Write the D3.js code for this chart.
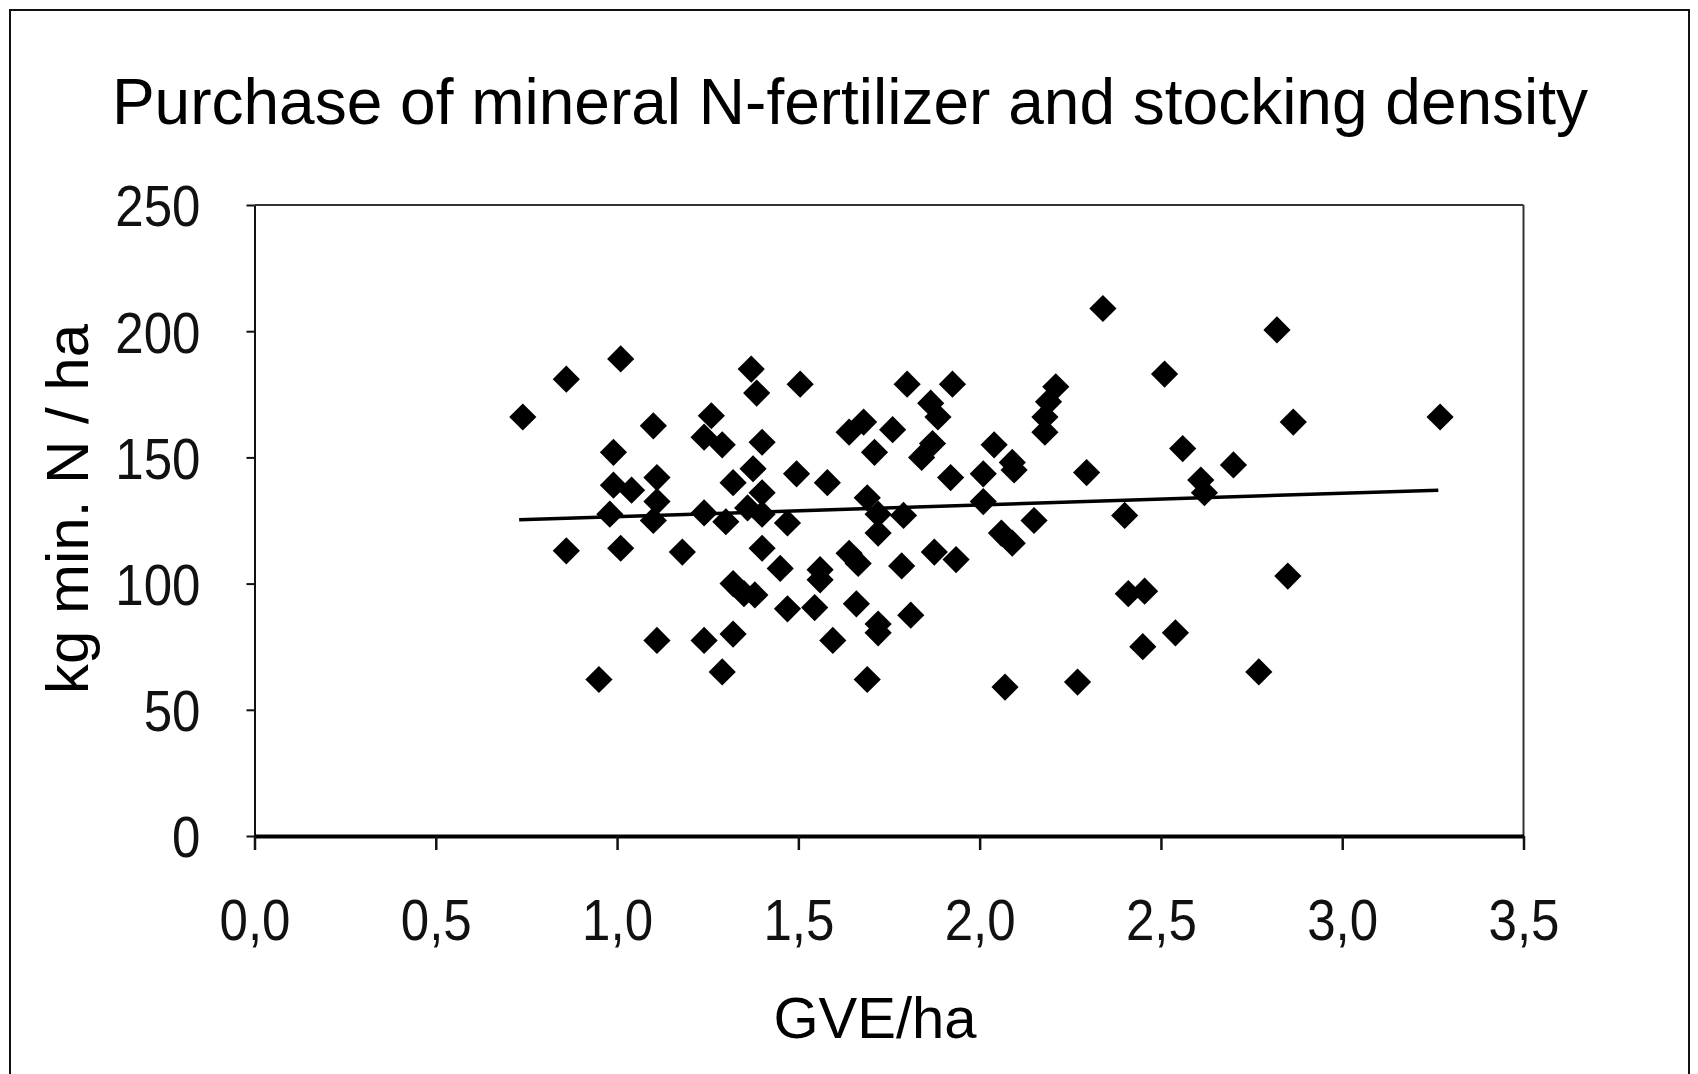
<!DOCTYPE html>
<html lang="en">
<head>
<meta charset="UTF-8">
<script src="https://cdn.jsdelivr.net/npm/d3@7/dist/d3.min.js"></script>
<title>Purchase of mineral N-fertilizer and stocking density</title>
<style>
  body { margin: 0; background: #fff; }
  svg { display: block; background: #fff; }
  .tick text { font-family: "Liberation Sans", Arial, sans-serif; fill: #111; }
  .lbl { font-family: "Liberation Sans", Arial, sans-serif; fill: #000; }
</style>
</head>
<body>
<div id="chart"></div>
<script>
// stocking density (GVE/ha) and mineral N purchase (kg N / ha)
var gve = [0.74, 0.86, 0.86, 0.95, 0.98, 0.99, 0.99, 1.01, 1.01, 1.04,
           1.10, 1.11, 1.11, 1.10, 1.11, 1.18, 1.24, 1.26, 1.24, 1.29,
           1.24, 1.30, 1.29, 1.32, 1.32, 1.35, 1.38, 1.37, 1.385, 1.40,
           1.375, 1.32, 1.40, 1.36, 1.40, 1.47, 1.495, 1.505, 1.40, 1.45,
           1.47, 1.545, 1.56, 1.56, 1.58, 1.595, 1.64, 1.68, 1.76, 1.71,
           1.69, 1.64, 1.665, 1.66, 1.69, 1.72, 1.72, 1.72, 1.72, 1.79,
           1.785, 1.81, 1.80, 1.865, 1.885, 1.87, 1.84, 1.875, 1.925, 1.92,
           1.935, 2.01, 2.01, 2.04, 2.09, 2.095, 2.06, 2.09, 2.07, 2.15,
           2.21, 2.19, 2.18, 2.18, 2.27, 2.295, 2.34, 2.40, 2.41, 2.455,
           2.45, 2.51, 2.54, 2.56, 2.61, 2.62, 2.70, 2.77, 2.82, 2.865,
           2.85, 3.27];
var kgN = [166, 181, 113, 62, 127.5, 139, 152, 189, 114, 137,
           162.5, 142, 132.5, 125, 77.5, 112.5, 77.5, 166.5, 158, 155,
           128, 124.5, 65, 80, 100, 96, 95.5, 185, 175.5, 156,
           145.5, 140, 136, 130, 127.5, 124, 143.5, 179, 114, 106,
           90, 90.5, 105.5, 101.5, 140, 77.5, 160, 164, 161, 152,
           134, 112, 108, 92, 62, 84, 80.5, 120, 127.5, 127,
           107, 87.5, 179, 171.5, 166, 155.5, 150, 112.5, 179, 142,
           109.5, 143.5, 132.5, 155, 148, 145, 120, 116, 59, 125,
           178, 172, 166, 160, 61, 144, 209, 127, 96, 97,
           75, 183, 80.5, 153.5, 141, 136, 147, 65, 200.5, 164,
           103, 166];

// trend line end points
var trendX = [0.73, 3.265];
var trendY = [125.3, 137];

var xTicks = [0, 0.5, 1, 1.5, 2, 2.5, 3, 3.5];
var yTicks = [0, 50, 100, 150, 200, 250];

var W = 1698, H = 1074;
var plotLeft = 254.5, plotRight = 1523.5, plotTop = 205, plotBottom = 836;

var svg = d3.select("#chart").append("svg")
  .attr("width", W)
  .attr("height", H);

// outer frame (bottom edge falls outside the picture)
svg.append("path")
  .attr("d", "M10," + H + "V10H1689V" + H)
  .attr("fill", "none")
  .attr("stroke", "#111")
  .attr("stroke-width", 2);

var x = d3.scaleLinear().domain([0, 3.5]).range([plotLeft, plotRight]);
var y = d3.scaleLinear().domain([0, 250]).range([plotBottom, plotTop]);

var comma = d3.formatLocale({decimal: ",", thousands: ".", grouping: [3], currency: ["", ""]});

// title
svg.append("text")
  .attr("class", "lbl")
  .attr("x", 850)
  .attr("y", 124)
  .attr("text-anchor", "middle")
  .style("font-size", "64px")
  .text("Purchase of mineral N-fertilizer and stocking density");

// top and right frame of the plot
svg.append("line")
  .attr("x1", x(0)).attr("x2", x(3.5))
  .attr("y1", y(250)).attr("y2", y(250))
  .attr("stroke", "#333").attr("stroke-width", 2);
svg.append("line")
  .attr("x1", x(3.5)).attr("x2", x(3.5))
  .attr("y1", y(250)).attr("y2", y(0))
  .attr("stroke", "#333").attr("stroke-width", 2);

// y axis
var gy = svg.append("g")
  .attr("transform", "translate(" + plotLeft + ",0)")
  .call(d3.axisLeft(y).tickValues(yTicks).tickSize(8).tickSizeOuter(0));
gy.select(".domain").attr("stroke", "#111").attr("stroke-width", 2);
gy.selectAll(".tick line").attr("stroke", "#111").attr("stroke-width", 2);
gy.selectAll(".tick text")
  .style("font-size", "58px")
  .attr("x", 0)
  .attr("dy", "0.36em")
  .attr("transform", "translate(-54,0) scale(0.88,1)");

// x axis
var gx = svg.append("g")
  .attr("transform", "translate(0," + plotBottom + ")")
  .call(d3.axisBottom(x).tickValues(xTicks).tickSize(14).tickSizeOuter(0).tickFormat(comma.format(".1f")));
gx.select(".domain").attr("stroke", "#000").attr("stroke-width", 4);
gx.selectAll(".tick line").attr("stroke", "#111").attr("stroke-width", 2.5);
gx.selectAll(".tick text")
  .style("font-size", "58px")
  .attr("y", 104)
  .attr("dy", 0)
  .attr("transform", "scale(0.88,1)");

// axis titles
svg.append("text")
  .attr("class", "lbl")
  .attr("x", 875)
  .attr("y", 1038)
  .attr("text-anchor", "middle")
  .style("font-size", "58px")
  .text("GVE/ha");

svg.append("text")
  .attr("class", "lbl")
  .attr("transform", "translate(88,509) rotate(-90)")
  .attr("text-anchor", "middle")
  .style("font-size", "60px")
  .text("kg min. N / ha");

// points
var pts = gve.map(function(d, i) { return [d, kgN[i]]; });
var diamond = d3.symbol().type(d3.symbolSquare).size(370);

svg.append("g")
  .selectAll("path")
  .data(pts)
  .enter()
  .append("path")
  .attr("d", diamond)
  .attr("transform", function(d) { return "translate(" + x(d[0]) + "," + y(d[1]) + ") rotate(45)"; })
  .attr("fill", "#000");

// trend line
svg.append("path")
  .datum(trendX.map(function(d, i) { return [d, trendY[i]]; }))
  .attr("fill", "none")
  .attr("stroke", "#000")
  .attr("stroke-width", 3.5)
  .attr("d", d3.line().x(function(d) { return x(d[0]); }).y(function(d) { return y(d[1]); }));
</script>
</body>
</html>
